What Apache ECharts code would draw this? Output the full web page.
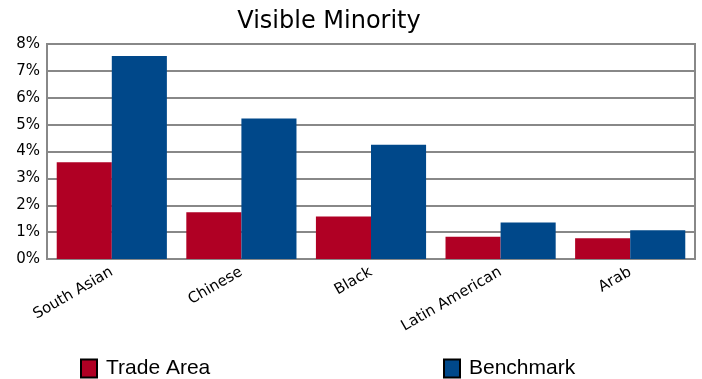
<!DOCTYPE html>
<html><head><meta charset="utf-8">
<script src="https://cdn.jsdelivr.net/npm/echarts@6/dist/echarts.min.js"></script>
<style>html,body{margin:0;padding:0;background:#fff}#c{width:702px;height:379px}</style>
</head><body><div id="c"></div>
<script>
const categories = ["South Asian", "Chinese", "Black", "Latin American", "Arab"];
const tradeArea = [3.6, 1.74, 1.58, 0.83, 0.77];
const benchmark = [7.55, 5.23, 4.25, 1.36, 1.07];
const yTicks = [0, 1, 2, 3, 4, 5, 6, 7, 8];

const chart = echarts.init(document.getElementById('c'), null, {renderer: 'canvas'});
const font = 'DejaVu Sans, Verdana, sans-serif';
const legendCommon = {top: 358, padding: 0, itemWidth: 16, itemHeight: 18, itemGap: 10, icon: 'rect',
  itemStyle: {borderColor: '#000', borderWidth: 2},
  textStyle: {fontFamily: 'Liberation Sans, Arial, sans-serif', fontSize: 21, color: '#000', padding: [0, 0, 0, 4]}};
chart.setOption({
  animation: false,
  title: {text: 'Visible Minority', left: 324, top: 5, textAlign: 'center',
    textStyle: {fontFamily: font, fontSize: 24, fontWeight: 'normal', color: '#000'}},
  grid: {left: 47, right: 7, top: 44, bottom: 120, show: true, borderColor: '#888', borderWidth: 2, containLabel: false},
  legend: [
    Object.assign({data: ['Trade Area'], left: 80}, legendCommon),
    Object.assign({data: ['Benchmark'], left: 443}, legendCommon)
  ],
  xAxis: {type: 'category', data: categories,
    axisLine: {show: false}, axisTick: {show: false},
    axisLabel: {rotate: 30, fontFamily: font, fontSize: 15, color: '#000', margin: 12, interval: 0}},
  yAxis: {type: 'value', min: yTicks[0], max: yTicks[yTicks.length-1], interval: 1,
    axisLine: {show: false}, axisTick: {show: false},
    splitLine: {lineStyle: {color: '#888', width: 2}},
    axisLabel: {formatter: v => v + '%', fontFamily: font, fontSize: 15, color: '#000', margin: 7}},
  series: [
    {name: 'Trade Area', type: 'bar', data: tradeArea, barGap: '0%', barCategoryGap: '15%',
     itemStyle: {color: '#B00024'}, emphasis: {disabled: true}},
    {name: 'Benchmark', type: 'bar', data: benchmark, barGap: '0%', barCategoryGap: '15%',
     itemStyle: {color: '#00488A'}, emphasis: {disabled: true}}
  ]
});
</script></body></html>
